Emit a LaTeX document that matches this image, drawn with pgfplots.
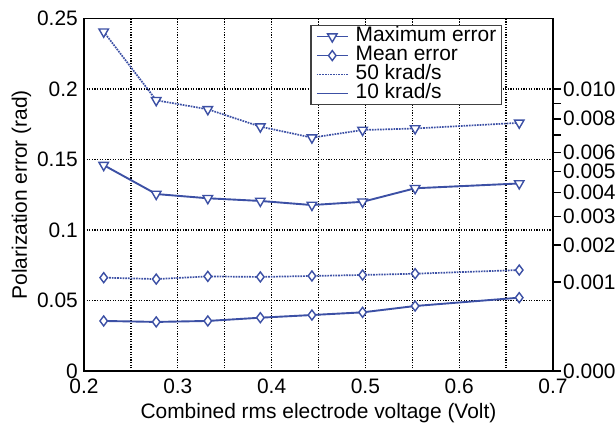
\documentclass[border=0pt]{standalone}
\usepackage{fontspec}
\setmainfont{Liberation Sans}
\usepackage{pgfplots}
\pgfplotsset{compat=1.18}
\definecolor{lineblue}{RGB}{60,80,165}

\begin{document}
\begin{tikzpicture}
\pgfplotsset{
  common/.style={
    at={(0,0)}, anchor=south west,
    scale only axis, width=469bp, height=352.5bp,
    xmin=0.2, xmax=0.7, ymin=0, ymax=0.25,
    font=\fontsize{21}{23}\selectfont,
    axis line style={black, line width=1.5bp},
    scaled ticks=false,
    /pgf/number format/assume math mode=true,
  },
  maxmark/.style={mark=triangle*, mark size=5.5bp, mark options={rotate=180, solid, fill=white, line width=1.4bp}},
  meanmark/.style={mark=diamond*, mark size=5bp, mark options={solid, fill=white, line width=1.4bp}},
  gridline/.style={black, line width=1.4bp, dash pattern=on 1.3bp off 1.3bp},
}
\begin{axis}[common,
  xtick={0.2,0.3,0.4,0.5,0.6,0.7},
  minor xtick={0.25,0.35,0.45,0.55,0.65},
  ytick={0,0.05,0.1,0.15,0.2,0.25},
  xticklabels={0.2,0.3,0.4,0.5,0.6,0.7},
  yticklabels={0,0.05,0.1,0.15,0.2,0.25},
  grid=both,
  major grid style={gridline},
  minor grid style={gridline},
  tick style={draw=none},
  xticklabel style={anchor=base, yshift=-22bp},
  yticklabel style={anchor=east, inner sep=0pt, xshift=-6bp},
  xlabel={Combined rms electrode voltage (Volt)},
  ylabel={Polarization error (rad)},
  every axis x label/.style={at={(axis description cs:0.5,0)}, yshift=-47bp, anchor=base},
  every axis y label/.style={at={(axis description cs:0,0.5)}, xshift=-57bp, rotate=90, anchor=base},
  legend style={at={(rel axis cs:0.891,0.9816)}, anchor=north east,
    draw=black!75, line width=1.2bp, fill=white,
    inner xsep=5bp, inner ysep=1.5bp, column sep=7bp,
    nodes={inner sep=0bp, text height=14.5bp, text depth=4.5bp},
    font=\fontsize{21}{23}\selectfont},
  legend cell align=left,
  legend image code/.code={\draw[mark repeat=2, mark phase=2, #1] plot coordinates {(0bp,0bp) (15.5bp,0bp) (31bp,0bp)};},
]
% 50 krad/s, maximum error
\addplot[forget plot, lineblue, densely dotted, line width=1.7bp, maxmark] coordinates {
(0.221,0.2406) (0.277,0.192) (0.332,0.1856) (0.388,0.1733) (0.443,0.1655) (0.497,0.1709) (0.553,0.172) (0.664,0.176)};
% 10 krad/s, maximum error
\addplot[forget plot, lineblue, solid, line width=1.9bp, maxmark] coordinates {
(0.221,0.146) (0.277,0.1255) (0.332,0.1225) (0.388,0.1206) (0.443,0.1177) (0.497,0.120) (0.553,0.1296) (0.664,0.133)};
% 50 krad/s, mean error
\addplot[forget plot, lineblue, densely dotted, line width=1.7bp, meanmark] coordinates {
(0.221,0.0662) (0.277,0.0652) (0.332,0.0671) (0.388,0.0667) (0.443,0.0674) (0.497,0.0681) (0.553,0.069) (0.664,0.0716)};
% 10 krad/s, mean error
\addplot[forget plot, lineblue, solid, line width=1.9bp, meanmark] coordinates {
(0.221,0.0355) (0.277,0.0348) (0.332,0.0355) (0.388,0.0378) (0.443,0.0397) (0.497,0.0416) (0.553,0.0461) (0.664,0.052)};
\addlegendimage{lineblue, solid, line width=1.7bp, maxmark}
\addlegendentry{Maximum error}
\addlegendimage{lineblue, solid, line width=1.7bp, meanmark}
\addlegendentry{Mean error}
\addlegendimage{lineblue, densely dotted, line width=1.7bp}
\addlegendentry{50 krad/s}
\addlegendimage{lineblue, solid, line width=1.7bp}
\addlegendentry{10 krad/s}
\end{axis}
% right-hand scale: (error/2)^2
\begin{axis}[common,
  axis x line=none, axis y line*=right,
  y axis line style={-},
  ytick={0,0.063246,0.089443,0.109545,0.126491,0.141421,0.154919,0.167332,0.178885,0.189737,0.2},
  yticklabels={0.000,0.001,0.002,0.003,0.004,0.005,0.006,,0.008,,0.010},
  tick align=outside, major tick length=8bp,
  ytick style={black, line width=1.5bp},
  yticklabel style={anchor=west, inner sep=0pt, xshift=2bp},
]
\addplot[draw=none] coordinates {(0.2,0)};
\end{axis}
\pgfresetboundingbox
\path[use as bounding box] (-84bp,-52bp) rectangle (532bp,371bp);
\end{tikzpicture}
\end{document}
